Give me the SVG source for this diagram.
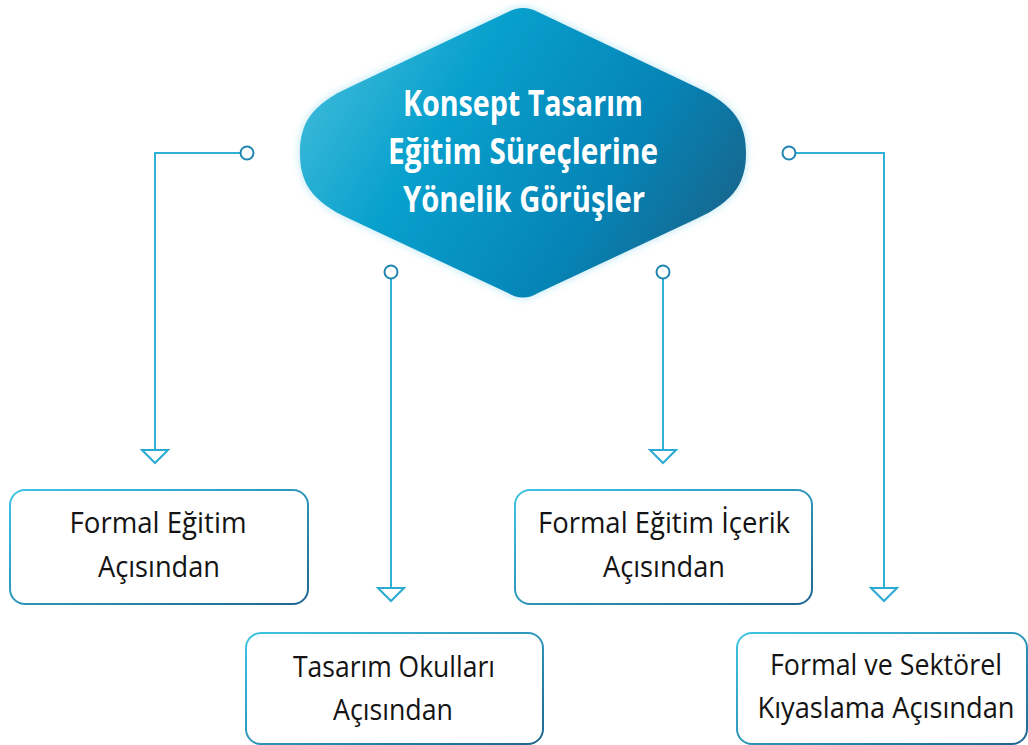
<svg xmlns="http://www.w3.org/2000/svg" width="1028" height="745" viewBox="0 0 1028 745">
  <defs>
    <linearGradient id="diamondFill" x1="0" y1="0.3" x2="1" y2="0.7">
      <stop offset="0" stop-color="#3cbad9"/>
      <stop offset="0.3" stop-color="#08a0cd"/>
      <stop offset="0.7" stop-color="#0584b6"/>
      <stop offset="1" stop-color="#18658c"/>
    </linearGradient>
    <linearGradient id="boxStroke" x1="0" y1="0" x2="1" y2="1">
      <stop offset="0" stop-color="#3ec4e3"/>
      <stop offset="1" stop-color="#1d6790"/>
    </linearGradient>
    <linearGradient id="connGrad" x1="0" y1="0" x2="1" y2="0">
      <stop offset="0" stop-color="#3cc3e2"/>
      <stop offset="1" stop-color="#1f7aa6"/>
    </linearGradient>
    <linearGradient id="connGradR" x1="1" y1="0" x2="0" y2="0">
      <stop offset="0" stop-color="#3cc3e2"/>
      <stop offset="1" stop-color="#1f7aa6"/>
    </linearGradient>
    <filter id="glow" x="-20%" y="-20%" width="140%" height="140%">
      <feGaussianBlur stdDeviation="4"/>
    </filter>
    <path id="diamondShape" d="M350,87 L508,12 Q523,4 538,12 L696,87 C736,105 746,125 746,153 C746,181 736,201 696,219 L538,293 Q523,302 508,293 L350,219 C310,201 300,181 300,153 C300,125 310,105 350,87 Z"/>
  </defs>
  <style>
    .box { fill: #ffffff; stroke: url(#boxStroke); stroke-width: 2; }
    .label { font-family: "Open Sans", "Noto Sans", "Liberation Sans", sans-serif; font-size: 30px; font-weight: 400; fill: #141414; text-anchor: middle; }
    .title { font-family: "Open Sans", "Noto Sans", "Liberation Sans", sans-serif; font-size: 36px; font-weight: 700; fill: #ffffff; text-anchor: middle; }
    .line { fill: none; stroke: #2fb0d6; stroke-width: 2; }
    .dot { fill: #ffffff; stroke: #1f86b2; stroke-width: 2; }
    .head { fill: #ffffff; stroke: #2aaad2; stroke-width: 2; stroke-linejoin: miter; }
  </style>

  <g id="connectors">
    <path class="line" d="M155,450 L155,153 L240,153" stroke="url(#connGrad)"/>
    <circle class="dot" cx="247" cy="153" r="6.5"/>
    <polygon class="head" points="142,450 168,450 155,463"/>

    <path class="line" d="M391,279 L391,588"/>
    <circle class="dot" cx="391" cy="272" r="6.5"/>
    <polygon class="head" points="378,588 404,588 391,601"/>

    <path class="line" d="M663,279 L663,450"/>
    <circle class="dot" cx="663" cy="272" r="6.5"/>
    <polygon class="head" points="650,450 676,450 663,463"/>

    <path class="line" d="M884,588 L884,153 L796,153" stroke="url(#connGradR)"/>
    <circle class="dot" cx="789" cy="153" r="6.5"/>
    <polygon class="head" points="871,588 897,588 884,601"/>
  </g>

  <g id="node-center">
    <use href="#diamondShape" fill="#7fd3ea" opacity="0.6" filter="url(#glow)"/>
    <use href="#diamondShape" fill="url(#diamondFill)"/>
    <text class="title" x="523" y="116" textLength="240" lengthAdjust="spacingAndGlyphs">Konsept Tasarım</text>
    <text class="title" x="523" y="164" textLength="270" lengthAdjust="spacingAndGlyphs">Eğitim Süreçlerine</text>
    <text class="title" x="524" y="212" textLength="242" lengthAdjust="spacingAndGlyphs">Yönelik Görüşler</text>
  </g>

  <g id="node-formal">
    <rect class="box" x="10" y="490" width="298" height="114" rx="15"/>
    <text class="label" x="158" y="533" textLength="177" lengthAdjust="spacingAndGlyphs">Formal Eğitim</text>
    <text class="label" x="159" y="577" textLength="122" lengthAdjust="spacingAndGlyphs">Açısından</text>
  </g>

  <g id="node-okullar">
    <rect class="box" x="246" y="633" width="297" height="111" rx="15"/>
    <text class="label" x="394" y="677" textLength="202" lengthAdjust="spacingAndGlyphs">Tasarım Okulları</text>
    <text class="label" x="393" y="720" textLength="120" lengthAdjust="spacingAndGlyphs">Açısından</text>
  </g>

  <g id="node-icerik">
    <rect class="box" x="515" y="490" width="297" height="114" rx="15"/>
    <text class="label" x="664" y="533" textLength="252" lengthAdjust="spacingAndGlyphs">Formal Eğitim İçerik</text>
    <text class="label" x="664" y="577" textLength="122" lengthAdjust="spacingAndGlyphs">Açısından</text>
  </g>

  <g id="node-sektorel">
    <rect class="box" x="737" y="633" width="290" height="111" rx="15"/>
    <text class="label" x="886" y="675" textLength="232" lengthAdjust="spacingAndGlyphs">Formal ve Sektörel</text>
    <text class="label" x="886" y="718" textLength="257" lengthAdjust="spacingAndGlyphs">Kıyaslama Açısından</text>
  </g>
</svg>
